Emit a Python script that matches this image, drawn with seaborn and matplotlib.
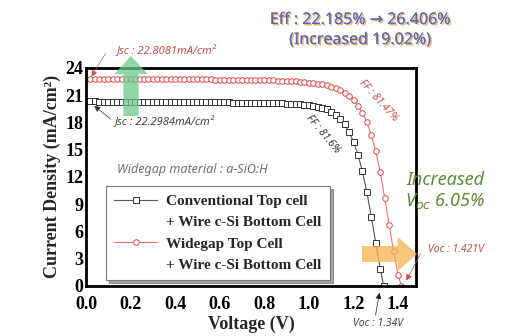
import matplotlib
matplotlib.use("Agg")
import matplotlib.pyplot as plt
import matplotlib.patheffects as pe
from matplotlib.lines import Line2D
from matplotlib.ticker import MultipleLocator
import seaborn as sns

# conventional top cell + wire c-Si bottom cell
conv_v = [0.00, 0.02, 0.04, 0.06, 0.08, 0.10, 0.12, 0.14, 0.16, 0.18, 0.20, 0.22, 0.24, 0.26, 0.28,
          0.30, 0.32, 0.34, 0.36, 0.38, 0.40, 0.42, 0.44, 0.46, 0.48, 0.50, 0.52, 0.54, 0.56, 0.58,
          0.60, 0.62, 0.64, 0.66, 0.68, 0.70, 0.72, 0.74, 0.76, 0.78, 0.80, 0.82, 0.84, 0.86, 0.88,
          0.90, 0.92, 0.94, 0.96, 0.98, 1.00, 1.02, 1.04, 1.06, 1.08, 1.10, 1.12, 1.14, 1.16, 1.18,
          1.20, 1.22, 1.24, 1.26, 1.28, 1.30, 1.32, 1.335]
conv_j = [20.30, 20.30, 20.30, 20.29, 20.29, 20.29, 20.28, 20.28, 20.28, 20.27, 20.27, 20.27, 20.26,
          20.26, 20.26, 20.25, 20.25, 20.25, 20.24, 20.24, 20.24, 20.23, 20.23, 20.23, 20.22, 20.22,
          20.22, 20.21, 20.21, 20.20, 20.20, 20.19, 20.19, 20.18, 20.18, 20.17, 20.16, 20.16, 20.15,
          20.14, 20.13, 20.12, 20.11, 20.10, 20.08, 20.06, 20.04, 20.01, 19.98, 19.94, 19.89, 19.82,
          19.73, 19.60, 19.42, 19.18, 18.85, 18.40, 17.80, 16.95, 15.85, 14.45, 12.60, 10.30, 7.60,
          4.70, 1.90, 0.00]

# widegap top cell + wire c-Si bottom cell
wide_v = [0.00, 0.02, 0.04, 0.06, 0.08, 0.10, 0.12, 0.14, 0.16, 0.18, 0.20, 0.22, 0.24, 0.26, 0.28,
          0.30, 0.32, 0.34, 0.36, 0.38, 0.40, 0.42, 0.44, 0.46, 0.48, 0.50, 0.52, 0.54, 0.56, 0.58,
          0.60, 0.62, 0.64, 0.66, 0.68, 0.70, 0.72, 0.74, 0.76, 0.78, 0.80, 0.82, 0.84, 0.86, 0.88,
          0.90, 0.92, 0.94, 0.96, 0.98, 1.00, 1.02, 1.04, 1.06, 1.08, 1.10, 1.12, 1.14, 1.16, 1.18,
          1.20, 1.22, 1.24, 1.26, 1.28, 1.30, 1.32, 1.34, 1.36, 1.38, 1.40, 1.415]
wide_j = [22.81, 22.81, 22.81, 22.80, 22.80, 22.80, 22.80, 22.79, 22.79, 22.79, 22.79, 22.78, 22.78,
          22.78, 22.78, 22.77, 22.77, 22.77, 22.76, 22.76, 22.76, 22.75, 22.75, 22.75, 22.74, 22.74,
          22.74, 22.73, 22.73, 22.72, 22.72, 22.71, 22.71, 22.70, 22.70, 22.69, 22.68, 22.67, 22.66,
          22.65, 22.64, 22.63, 22.62, 22.60, 22.58, 22.56, 22.54, 22.51, 22.48, 22.44, 22.39, 22.33,
          22.26, 22.17, 22.06, 21.92, 21.75, 21.53, 21.25, 20.90, 20.45, 19.85, 19.05, 18.00, 16.60,
          14.80, 12.50, 9.70, 6.70, 3.80, 1.20, 0.00]

sns.set_style("white")
plt.rcParams["font.family"] = ["Liberation Serif", "DejaVu Serif"]

fig = plt.figure(figsize=(5.06, 3.36), dpi=100)
ax = fig.add_axes([0.170, 0.149, 0.652, 0.649])

sns.lineplot(x=conv_v, y=conv_j, ax=ax, sort=False, estimator=None, color="#555555", lw=0.8,
             marker="s", markersize=3.8, markerfacecolor="white", markeredgecolor="#333333",
             markeredgewidth=0.7)
sns.lineplot(x=wide_v, y=wide_j, ax=ax, sort=False, estimator=None, color="#f07070", lw=0.8,
             marker="o", markersize=4, markerfacecolor="white", markeredgecolor="#e04848",
             markeredgewidth=0.7)

ax.set_xlim(0, 1.48)
ax.set_ylim(0, 24)
ax.xaxis.set_major_locator(MultipleLocator(0.2))
ax.xaxis.set_minor_locator(MultipleLocator(0.1))
ax.yaxis.set_major_locator(MultipleLocator(3))
ax.yaxis.set_minor_locator(MultipleLocator(1.5))
ax.xaxis.set_major_formatter(matplotlib.ticker.FormatStrFormatter("%.1f"))
ax.tick_params(which="both", direction="in", width=1.5, colors="black")
ax.tick_params(which="major", length=4, labelsize=13)
ax.tick_params(axis="x", which="major", pad=7)
ax.tick_params(axis="y", which="major", pad=2)
ax.tick_params(which="minor", length=2.5)
for lab in ax.get_xticklabels() + ax.get_yticklabels():
    lab.set_fontweight("bold")
for s in ax.spines.values():
    s.set_linewidth(2)
    s.set_color("black")

ax.set_xlabel("Voltage (V)", fontsize=13, fontweight="bold", labelpad=2)
ax.set_ylabel("Current Density (mA/cm²)", fontsize=13, fontweight="bold", labelpad=3)

# legend: handle on first line of each entry
blank = Line2D([], [], linestyle="none", marker=None)
h1 = Line2D([], [], color="#555555", lw=0.8, marker="s", markersize=3.8,
            markerfacecolor="white", markeredgecolor="#333333", markeredgewidth=0.7)
h2 = Line2D([], [], color="#f07070", lw=0.8, marker="o", markersize=4,
            markerfacecolor="white", markeredgecolor="#e04848", markeredgewidth=0.7)
leg = ax.legend([h1, blank, h2, blank],
                ["Conventional Top cell", "+ Wire c-Si Bottom Cell",
                 "Widegap Top Cell", "+ Wire c-Si Bottom Cell"],
                loc="lower left", bbox_to_anchor=(0.06, 0.025), borderaxespad=0, numpoints=1,
                handlelength=2.8, fancybox=False, shadow=True, framealpha=1,
                prop={"family": "Liberation Serif", "weight": "bold", "size": 11},
                labelspacing=0.5, borderpad=0.55, handletextpad=0.6)
leg.get_frame().set_edgecolor("#777777")
leg.get_frame().set_linewidth(0.8)


def fp(x, y):
    return (x, 336 - y)


sans = ["Noto Sans", "DejaVu Sans"]

# thin pointer arrows
ptr = [((107, 51), (90, 79), "#c0504d"), ((113, 121), (92, 104), "#333333"),
       ((422, 251), (405, 283), "#c0504d"), ((375, 318), (380, 290), "#222222")]
for tail, tip, c in ptr:
    ax.annotate("", xy=fp(*tip), xytext=fp(*tail), xycoords="figure pixels",
                textcoords="figure pixels",
                arrowprops=dict(arrowstyle="-|>", color=c, lw=0.5, mutation_scale=9))

fig.text(117 / 506, 1 - 51 / 336, "Jsc : 22.8081mA/cm²", color="#c0504d", fontsize=8,
         style="italic", family=sans, va="center")
fig.text(115 / 506, 1 - 122 / 336, "Jsc : 22.2984mA/cm²", color="#444444", fontsize=8,
         style="italic", family=sans, va="center")
fig.text(117 / 506, 1 - 170 / 336, "Widegap material : a-SiO:H", color="#707078", fontsize=9,
         style="italic", family=sans, va="center")
fig.text(323 / 506, 1 - 134 / 336, "FF : 81.6%", color="#333333", fontsize=7.5,
         style="italic", family=sans, va="center", ha="center", rotation=-50)
fig.text(378 / 506, 1 - 101 / 336, "FF : 81.47%", color="#c0504d", fontsize=7.5,
         style="italic", family=sans, va="center", ha="center", rotation=-48)
fig.text(428 / 506, 1 - 250 / 336, "Voc : 1.421V", color="#c0504d", fontsize=7.5,
         style="italic", family=sans, va="center")
fig.text(353 / 506, 1 - 324 / 336, "Voc : 1.34V", color="#444444", fontsize=7.5,
         style="italic", family=sans, va="center")

shadow = [pe.withSimplePatchShadow(offset=(1, -1), shadow_rgbFace="#f0a050", alpha=0.9),
          pe.Normal()]
fig.text(360 / 506, 1 - 20 / 336, "Eff : 22.185% → 26.406%", color="#5a6ab0", fontsize=11.5,
         family=sans, ha="center", va="center", path_effects=shadow)
fig.text(360 / 506, 1 - 40 / 336, "(Increased 19.02%)", color="#5a6ab0", fontsize=11.5,
         family=sans, ha="center", va="center", path_effects=shadow)

fig.text(445 / 506, 1 - 180 / 336, "Increased", color="#5b8c3a", fontsize=13,
         style="italic", weight="bold", family=sans, ha="center", va="center")
fig.text(445 / 506, 1 - 201 / 336, "V$_{oc}$ 6.05%", color="#5b8c3a", fontsize=13,
         style="italic", weight="bold", family=sans, ha="center", va="center")

# block arrows
ax.annotate("", xy=fp(131, 56), xytext=fp(131, 116), xycoords="figure pixels",
            textcoords="figure pixels", annotation_clip=False,
            arrowprops=dict(arrowstyle="simple,tail_width=1.1,head_width=2.4,head_length=1.3",
                            mutation_scale=10, color="#6cc98a", alpha=0.75, lw=0,
                            shrinkA=0, shrinkB=0))
ax.annotate("", xy=fp(417, 254), xytext=fp(362, 254), xycoords="figure pixels",
            textcoords="figure pixels", annotation_clip=False,
            arrowprops=dict(arrowstyle="simple,tail_width=1.15,head_width=2.5,head_length=1.4",
                            mutation_scale=10, color="#f5b450", alpha=0.75, lw=0,
                            shrinkA=0, shrinkB=0))

fig.savefig("out.png", dpi=100)
